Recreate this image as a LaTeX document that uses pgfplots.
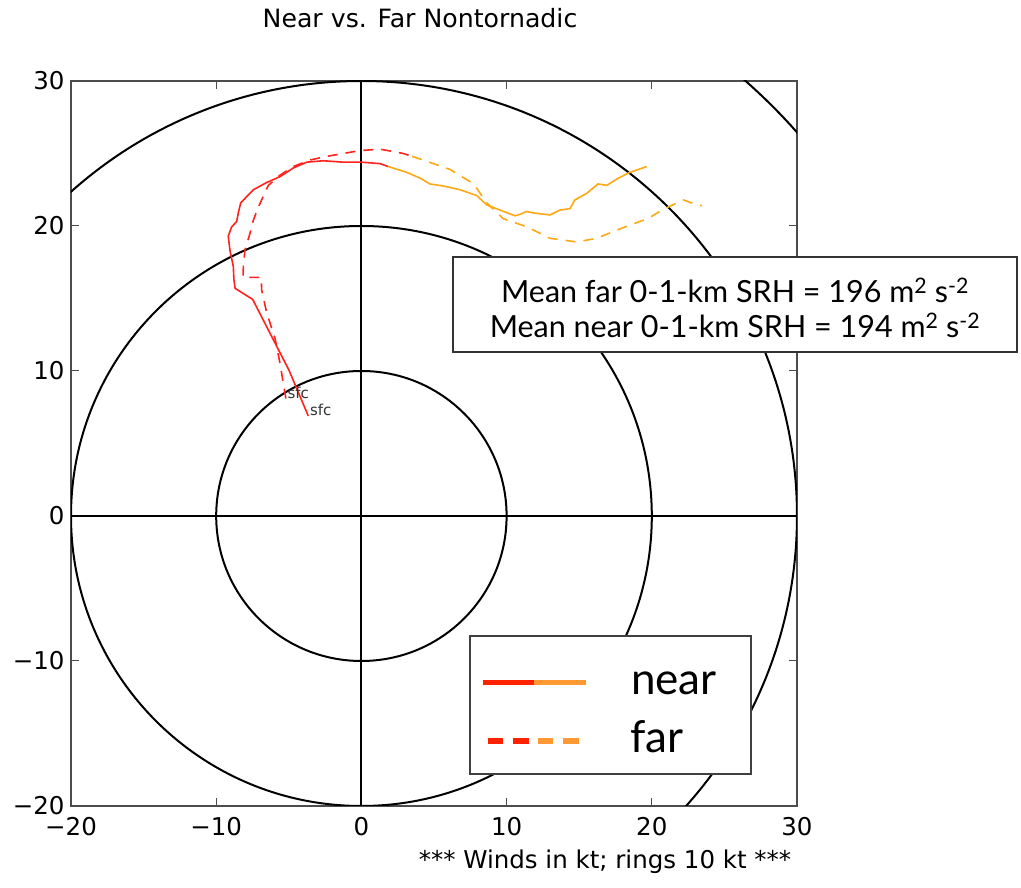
\documentclass[border=0pt]{standalone}
\usepackage{pgfplots}
\pgfplotsset{compat=1.18}
\usepackage{fontspec}
\setmainfont{DejaVu Sans}
\newfontfamily\gill{Lato}
\definecolor{nred}{RGB}{255,35,30}
\definecolor{norange}{RGB}{255,168,20}
\definecolor{lred}{RGB}{255,34,0}
\definecolor{lorange}{RGB}{255,153,51}
\begin{document}
\begin{tikzpicture}[x=1pt,y=1pt]
\useasboundingbox (0,0) rectangle (1021,888);
\begin{axis}[at={(71pt,82pt)}, anchor=south west, width=726pt, height=725pt, scale only axis,
 xmin=-20,xmax=30,ymin=-20,ymax=30,
 xtick={-20,-10,0,10,20,30}, ytick={-20,-10,0,10,20,30},
 xticklabels={−20,−10,0,10,20,30}, yticklabels={−20,−10,0,10,20,30},
 axis line style={black!70, line width=1.5pt},
 major tick length=8pt, tick style={black!70, line width=1pt},
 tick label style={font=\fontsize{24.5}{24.5}\selectfont},
 xticklabel style={yshift=-8pt},
 yticklabel style={xshift=-3pt},
 clip=true,
]
\draw[black, line width=2pt] (axis cs:0,0) circle[radius=10];
\draw[black, line width=2pt] (axis cs:0,0) circle[radius=20];
\draw[black, line width=2pt] (axis cs:0,0) circle[radius=30];
\draw[black, line width=2pt] (axis cs:0,0) circle[radius=40];
\draw[black, line width=2pt] (axis cs:0,-20) -- (axis cs:0,30);
\draw[black, line width=2pt] (axis cs:-20,0) -- (axis cs:30,0);
% near (solid)
\addplot[nred, line width=1.6pt, no markers] coordinates {
(-3.66,6.9) (-4.99,10.06) (-7.49,14.94) (-8.7,15.7) (-8.78,16.3) (-8.82,17.2)
(-9.05,18.3) (-9.17,19.3) (-8.93,19.95) (-8.59,20.3) (-8.48,20.9) (-8.31,21.6)
(-8.02,21.9) (-7.44,22.5) (-6.52,23.0) (-5.61,23.4) (-4.69,24.0) (-3.77,24.4)
(-2.62,24.5) (-1.25,24.4) (0.02,24.4) (1.28,24.3) (1.85,24.1)};
\addplot[norange, line width=1.6pt, no markers] coordinates {
(1.85,24.1) (3.12,23.7) (4.04,23.3) (4.72,22.9) (5.64,22.76) (6.79,22.5)
(7.94,22.1) (8.63,21.45) (9.55,21.1) (10.58,20.7) (10.92,20.8) (11.38,21.0)
(11.84,20.9) (12.99,20.76) (13.68,21.1) (14.37,21.2) (14.7,21.8) (15.52,22.25)
(16.3,22.9) (16.9,22.8) (17.69,23.3) (18.5,23.7) (19.65,24.1)};
% far (dashed)
\addplot[nred, line width=1.6pt, no markers, dash pattern=on 10pt off 8pt] coordinates {
(-5.2,8.1) (-5.6,10.5) (-5.95,12.25) (-6.52,14.0) (-6.87,15.6) (-6.9,16.46)
(-8.15,16.46) (-8.13,17.2) (-8.02,18.34) (-7.67,19.5) (-7.44,20.4) (-7.1,21.3)
(-6.64,22.3) (-6.41,22.8) (-5.61,23.5) (-4.69,24.1) (-3.54,24.55) (-2.39,24.8)
(-1.25,25.0) (-0.1,25.2) (1.28,25.3) (2.89,25.0) (3.5,24.8)};
\addplot[norange, line width=1.6pt, no markers, dash pattern=on 10pt off 8pt] coordinates {
(3.5,24.8) (4.26,24.55) (6.1,23.9) (7.48,23.06) (7.94,22.6) (8.63,21.6)
(9.77,20.5) (11.38,19.95) (12.99,19.15) (14.83,18.9) (16.2,19.15) (17.81,19.8)
(19.41,20.4) (19.88,20.6) (20.8,21.15) (22.17,21.8) (22.86,21.55) (23.44,21.4)};
\node[anchor=base west, inner sep=0pt, text=black!80, font=\fontsize{15}{15}\selectfont] at (axis cs:-3.55,6.9) {sfc};
\node[anchor=base west, inner sep=0pt, text=black!80, font=\fontsize{15}{15}\selectfont] at (axis cs:-5.1,8.1) {sfc};
\end{axis}
% title and footer
\node[font=\fontsize{25.2}{25.2}\selectfont] at (420,870) {Near vs. Far Nontornadic};
\node[font=\fontsize{24.5}{24.5}\selectfont] at (605,26) {*** Winds in kt; rings 10 kt ***};
% SRH box
\draw[fill=white, draw=black!80, line width=1.3pt] (453,631) rectangle (1017,536);
\node[font=\gill\fontsize{30.5}{30.5}\selectfont] at (735,598) {Mean far 0-1-km SRH = 196 m\textsuperscript{2} s\textsuperscript{-2}};
\node[font=\gill\fontsize{30.5}{30.5}\selectfont] at (735,563) {Mean near 0-1-km SRH = 194 m\textsuperscript{2} s\textsuperscript{-2}};
% legend
\draw[fill=white, draw=black!75, line width=1.3pt] (470,252) rectangle (751,114);
\draw[lred, line width=5pt] (483,205) -- (534,205);
\draw[lorange, line width=5pt] (534,205) -- (586,205);
\draw[lred, line width=6pt] (488,147) -- (503,147);
\draw[lred, line width=6pt] (513,147) -- (529,147);
\draw[lorange, line width=6pt] (538,147) -- (553,147);
\draw[lorange, line width=6pt] (563,147) -- (579,147);
\node[anchor=base west, inner sep=0pt, font=\gill\fontsize{44}{44}\selectfont] at (631,193) {near};
\node[anchor=base west, inner sep=0pt, font=\gill\fontsize{44}{44}\selectfont] at (630,135) {far};
\end{tikzpicture}
\end{document}
